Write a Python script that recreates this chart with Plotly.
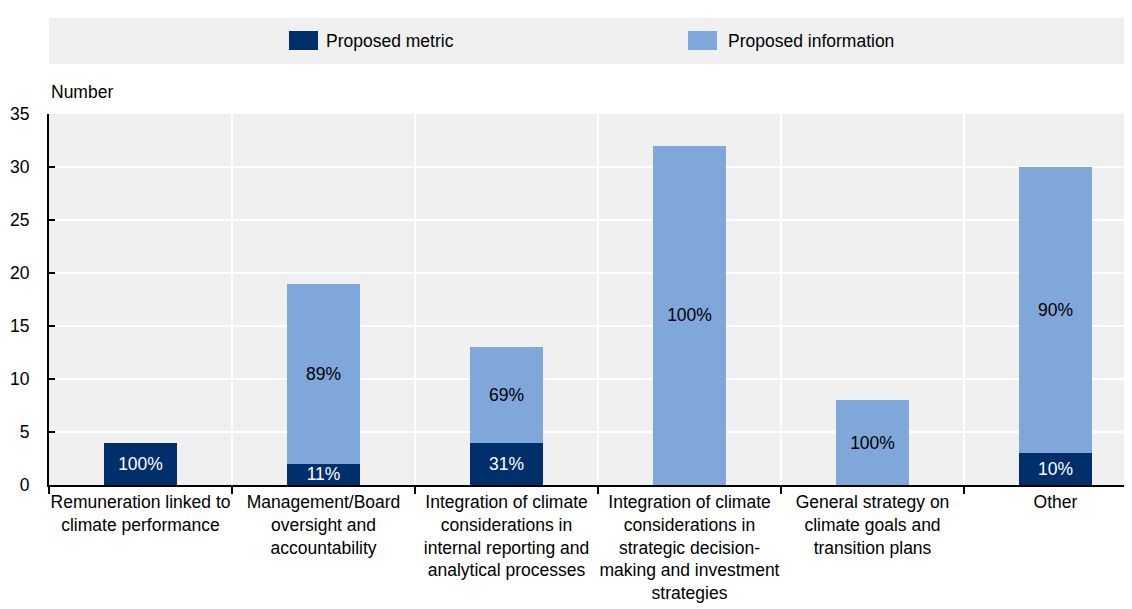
import plotly.graph_objects as go

categories = [
    "Remuneration linked to<br>climate performance",
    "Management/Board<br>oversight and<br>accountability",
    "Integration of climate<br>considerations in<br>internal reporting and<br>analytical processes",
    "Integration of climate<br>considerations in<br>strategic decision-<br>making and investment<br>strategies",
    "General strategy on<br>climate goals and<br>transition plans",
    "Other",
]
proposed_metric = [4, 2, 4, 0, 0, 3]
proposed_information = [0, 17, 9, 32, 8, 27]
y_ticks = [0, 5, 10, 15, 20, 25, 30, 35]

DARK = "#002f6c"
LIGHT = "#7fa7d9"
BG = "#f0f0f0"
FONT = "Liberation Sans, Arial, sans-serif"
FS = 17.5

totals = [m + i for m, i in zip(proposed_metric, proposed_information)]
metric_text = [f"{round(100 * m / t)}%" if m > 0 else "" for m, t in zip(proposed_metric, totals)]
info_text = [f"{round(100 * i / t)}%" if i > 0 else "" for i, t in zip(proposed_information, totals)]
xpos = list(range(len(categories)))

# page offset (body margin) compensation
OFF = 8
W, H = 1132 - OFF, 609 - OFF
PLOT_L, PLOT_T, PLOT_B = 49, 114, 485  # page pixel coords
ML, MT, MR = PLOT_L - OFF, PLOT_T - OFF, 0
MB = (H + OFF) - PLOT_B
pw = (W + OFF) - PLOT_L
ph = PLOT_B - PLOT_T
cat_px = 183.0

fig = go.Figure()
fig.add_trace(go.Bar(
    x=xpos, y=proposed_metric, name="Proposed metric", marker_color=DARK,
    marker_line_width=0, width=0.4, text=metric_text, textposition="inside",
    insidetextanchor="middle", textfont=dict(color="white", size=FS, family=FONT),
    showlegend=False,
))
fig.add_trace(go.Bar(
    x=xpos, y=proposed_information, name="Proposed information", marker_color=LIGHT,
    marker_line_width=0, width=0.4, text=info_text, textposition="inside",
    insidetextanchor="middle", textfont=dict(color="black", size=FS, family=FONT),
    showlegend=False,
))

def px_x(px):
    return (px - PLOT_L) / pw

def px_y(py):
    return (PLOT_B - py) / ph

shapes = [
    dict(type="rect", xref="paper", yref="paper", x0=0, x1=1.0, y0=px_y(64), y1=px_y(18),
         fillcolor=BG, line_width=0, layer="below"),
    dict(type="rect", xref="paper", yref="paper", x0=px_x(289), x1=px_x(318), y0=px_y(50), y1=px_y(31),
         fillcolor=DARK, line_width=0),
    dict(type="rect", xref="paper", yref="paper", x0=px_x(688), x1=px_x(717), y0=px_y(50), y1=px_y(31),
         fillcolor=LIGHT, line_width=0),
]
annotations = [
    dict(text="Proposed metric", xref="paper", yref="paper", x=px_x(324), y=px_y(41),
         xanchor="left", yanchor="middle", showarrow=False, font=dict(size=FS, color="black", family=FONT)),
    dict(text="Proposed information", xref="paper", yref="paper", x=px_x(726), y=px_y(41),
         xanchor="left", yanchor="middle", showarrow=False, font=dict(size=FS, color="black", family=FONT)),
    dict(text="Number", xref="paper", yref="paper", x=0, y=px_y(92),
         xanchor="left", yanchor="middle", showarrow=False, font=dict(size=FS, color="black", family=FONT)),
]

fig.update_layout(
    width=W, height=H,
    margin=dict(l=ML, r=MR, t=MT, b=MB, pad=0, autoexpand=False),
    barmode="stack",
    paper_bgcolor="white",
    plot_bgcolor=BG,
    font=dict(family=FONT, size=FS, color="black"),
    uniformtext=dict(minsize=FS, mode="show"),
    shapes=shapes,
    annotations=annotations,
    showlegend=False,
)
fig.update_xaxes(
    range=[-0.5, -0.5 + pw / cat_px],
    tickmode="array", tickvals=xpos, ticktext=categories, tickangle=0,
    ticks="", showgrid=False, zeroline=False, automargin=False,
    showline=True, linecolor="black", linewidth=2,
    tickfont=dict(size=FS, family=FONT),
    minor=dict(tick0=-0.5, dtick=1, ticks="outside", ticklen=7, tickwidth=2, tickcolor="black",
               showgrid=True, gridcolor="white", gridwidth=2),
)
fig.update_yaxes(
    range=[0, 35], tickmode="array", tickvals=y_ticks, automargin=False,
    ticks="inside", ticklen=6, tickwidth=2, tickcolor="black", ticklabelstandoff=14,
    showgrid=True, gridcolor="white", gridwidth=2, zeroline=False,
    showline=True, linecolor="black", linewidth=2,
    tickfont=dict(size=FS, family=FONT),
)

fig.write_html("out.html")
